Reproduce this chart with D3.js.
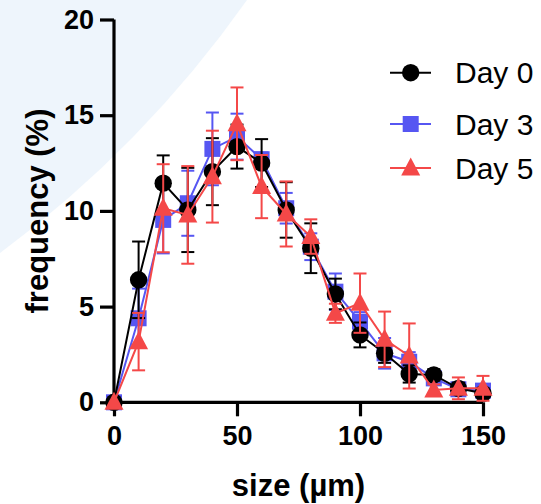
<!DOCTYPE html>
<html><head><meta charset="utf-8">
<script src="https://cdn.jsdelivr.net/npm/d3@7"></script>
<style>body{margin:0;background:#fff}svg{display:block}</style>
</head><body>
<script>
const sizes = [0,10,20,30,40,50,60,70,80,90,100,110,120,130,140,150];
const day0 = [0,6.4,11.45,10.05,12.05,13.36,12.5,10.05,8.05,5.66,3.52,2.56,1.48,1.43,0.73,0.47];
const day0Err = [0,2.0,1.45,2.2,1.75,1.15,1.25,1.45,1.3,0.8,0.65,0.5,0.45,0.3,0.3,0.2];
const day3 = [0,4.39,9.53,10.4,13.24,13.88,12.7,10.14,8.13,5.78,4.21,2.56,2.12,1.25,0.68,0.61];
const day3Err = [0,1.55,1.75,1.7,1.9,1.2,0.35,0.8,0.7,0.95,0.5,0.8,0.5,0.3,0.3,0.3];
const day5 = [0,3.17,10.14,9.79,11.79,14.55,11.27,9.84,8.66,4.65,5.18,3.29,2.42,0.64,0.73,0.73];
const day5Err = [0,1.5,2.3,2.55,2.4,1.9,1.65,1.7,0.9,0.5,1.55,1.45,1.7,0.3,0.57,0.65];
const seriesNames = ["Day 0","Day 3","Day 5"];
const xTicks = [0,50,100,150];
const yTicks = [0,5,10,15,20];

const W=541,H=504;
const svg=d3.select("body").append("svg").attr("width",W).attr("height",H);
// background shape
svg.append("path").attr("d","M0,0 L247,0 Q143.5,146.5 0,253 Z").attr("fill","#eef5fc");

const x=d3.scaleLinear().domain([0,150]).range([114,483]);
const y=d3.scaleLinear().domain([0,20]).range([402.3,19.5]);
const font="Liberation Sans, Arial, sans-serif";

// axes
const xa=svg.append("g").attr("transform","translate(0,402.3)")
  .call(d3.axisBottom(x).tickValues(xTicks).tickSize(14).tickPadding(10).tickFormat(d3.format("d")));
const ya=svg.append("g").attr("transform","translate(114,0)")
  .call(d3.axisLeft(y).tickValues(yTicks).tickSize(14).tickPadding(6).tickFormat(d3.format("d")));
[xa,ya].forEach(a=>{
  a.select(".domain").attr("stroke","#000").attr("stroke-width",3.2);
  a.selectAll(".tick line").attr("stroke","#000").attr("stroke-width",3.2);
  a.selectAll(".tick text").attr("fill","#000").style("font-family",font).style("font-size","27px").style("font-weight","bold");
});
xa.select(".domain").attr("d","M114,0H483");
ya.select(".domain").attr("d","M0,19.5V402.3");

svg.append("text").attr("x",298.5).attr("y",496).attr("text-anchor","middle")
  .style("font-family",font).style("font-size","31px").style("font-weight","bold").text("size (µm)");
svg.append("text").attr("transform","translate(48,211) rotate(-90)").attr("text-anchor","middle")
  .style("font-family",font).style("font-size","31px").style("font-weight","bold").text("frequency (%)");

const series=[
 {name:seriesNames[1],vals:day3,err:day3Err,color:"#5656f2",shape:"square"},
 {name:seriesNames[0],vals:day0,err:day0Err,color:"#000000",shape:"circle"},
 {name:seriesNames[2],vals:day5,err:day5Err,color:"#f44848",shape:"triangle"}
];
function marker(g,shape,cx,cy,color){
  if(shape==="circle") g.append("circle").attr("cx",cx).attr("cy",cy).attr("r",8.7).attr("fill",color);
  else if(shape==="square") g.append("rect").attr("x",cx-8).attr("y",cy-8).attr("width",16).attr("height",16).attr("fill",color);
  else g.append("path").attr("d",`M${cx},${cy-10.5}L${cx+9.5},${cy+7.5}L${cx-9.5},${cy+7.5}Z`).attr("fill",color);
}
const line=d3.line().x((d,i)=>x(sizes[i])).y(d=>y(d));
series.forEach(s=>{
  const g=svg.append("g");
  s.vals.forEach((v,i)=>{
    const e=s.err[i]; if(!e) return;
    const cx=x(sizes[i]);
    g.append("line").attr("x1",cx).attr("x2",cx).attr("y1",y(v-e)).attr("y2",y(v+e)).attr("stroke",s.color).attr("stroke-width",2);
    [v-e,v+e].forEach(t=>g.append("line").attr("x1",cx-6.5).attr("x2",cx+6.5).attr("y1",y(t)).attr("y2",y(t)).attr("stroke",s.color).attr("stroke-width",2));
  });
  g.append("path").attr("d",line(s.vals)).attr("fill","none").attr("stroke",s.color).attr("stroke-width",2);
  s.vals.forEach((v,i)=>marker(g,s.shape,x(sizes[i]),y(v),s.color));
});

// legend
const leg=[{name:seriesNames[0],color:"#000000",shape:"circle",y:72.7},
           {name:seriesNames[1],color:"#5656f2",shape:"square",y:124},
           {name:seriesNames[2],color:"#f44848",shape:"triangle",y:168}];
leg.forEach(l=>{
  const g=svg.append("g");
  g.append("line").attr("x1",390).attr("x2",431).attr("y1",l.y).attr("y2",l.y).attr("stroke",l.color).attr("stroke-width",2);
  marker(g,l.shape,410.7,l.y,l.color);
  g.append("text").attr("x",455).attr("y",l.y+10.5).style("font-family",font).style("font-size","30px").attr("fill","#000").text(l.name);
});
</script>
</body></html>
